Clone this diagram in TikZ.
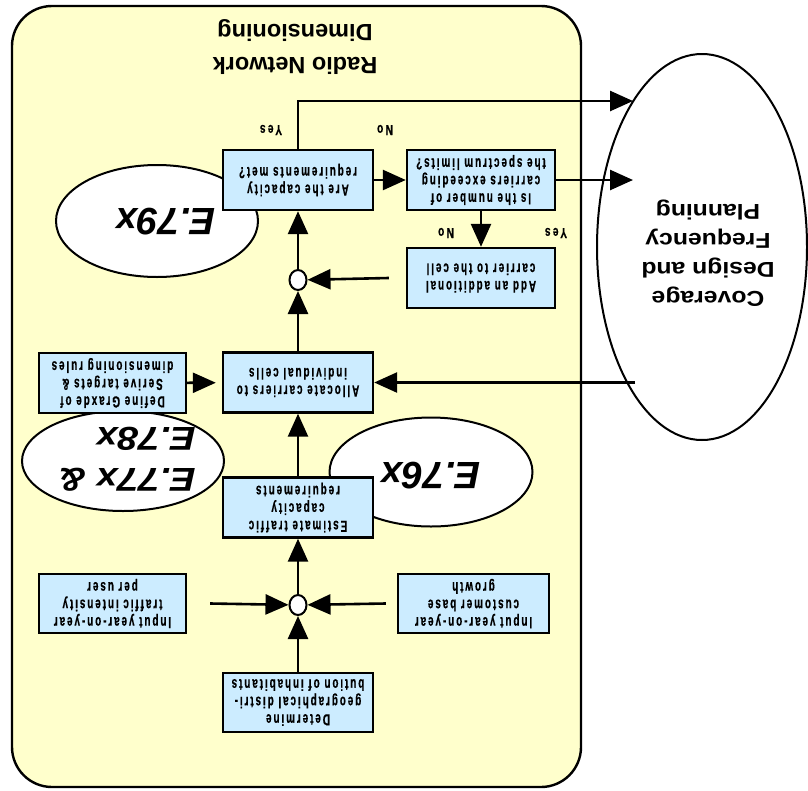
\documentclass[tikz,border=0pt]{standalone}
\usepackage{fontspec}
\setmainfont{Liberation Sans}
\newfontfamily\boxfont[FakeStretch=0.62, LetterSpace=12, BoldFeatures={FakeBold=0.5}]{Liberation Sans}
\newfontfamily\tagfont[FakeStretch=0.7, LetterSpace=16, BoldFeatures={FakeBold=0.5}]{Liberation Sans}
\newfontfamily\widefont[FakeStretch=1.15]{Liberation Sans}
\usetikzlibrary{arrows.meta,shapes.geometric}
\definecolor{panelfill}{RGB}{255,255,204}
\definecolor{stepfill}{RGB}{204,236,255}
\begin{document}
\begin{tikzpicture}[x=1pt,y=-1pt,
  stepbox/.style={draw, line width=2.4pt, fill=stepfill, minimum width=150pt,
    minimum height=60pt, inner sep=0pt, align=center, rotate=180,
    font=\boxfont\bfseries\fontsize{16}{17.5}\selectfont},
  junction/.style={draw, line width=2pt, fill=white, ellipse, minimum width=17pt,
    minimum height=20pt, inner sep=0pt},
  refoval/.style={draw, line width=2pt, fill=white, ellipse, inner sep=0pt},
  reftext/.style={rotate=180, inner sep=0pt, font=\bfseries\itshape\fontsize{38}{41}\selectfont},
  tag/.style={rotate=180, inner sep=0pt, font=\tagfont\bfseries\fontsize{14.5}{15}\selectfont},
  arr/.style={line width=2.6pt, -{Triangle[length=23pt,width=20pt]}}]
\useasboundingbox (0,0) rectangle (808,790);
\fill[white] (0,0) rectangle (808,790);

% dimensioning panel
\draw[line width=2.4pt, fill=panelfill, rounded corners=40pt] (12,6) rectangle (581,787);
\node[rotate=180, inner sep=0pt, align=center, font=\bfseries\fontsize{23.5}{33}\selectfont]
  (title) at (295,47.5) {Radio Network\\Dimensioning};

% planning process on the right
\node[refoval, minimum width=210pt, minimum height=386pt] (cover) at (702,247) {};
\node[rotate=180, inner sep=0pt, align=center, font=\widefont\bfseries\fontsize{21.5}{29}\selectfont]
  (covertext) at (708,253.5) {Coverage\\Design and\\Frequency\\Planning};

% recommendation references
\node[refoval, minimum width=202pt, minimum height=112pt] (e79) at (157,221) {};
\node[reftext] (e79text) at (166,222) {E.79x};
\node[refoval, minimum width=202pt, minimum height=100pt] (e7778) at (123,461) {};
\node[reftext, align=left, font=\widefont\bfseries\itshape\fontsize{33}{41}\selectfont]
  (e7778text) at (127,459) {E.77x \&\\E.78x};
\node[refoval, minimum width=203pt, minimum height=109pt] (e76) at (431,472) {};
\node[reftext] (e76text) at (431,476) {E.76x};

% process steps
\node[stepbox] (are) at (298,180) {Are the capacity\\requirements met?};
\node[stepbox, minimum width=148pt] (isnum) at (481,180) {Is the number of\\carriers exceeding\\the spectrum limits?};
\node[stepbox, minimum width=148pt] (add) at (481,278) {Add an additional\\carrier to the cell};
\node[stepbox] (alloc) at (298,382.5) {Allocate carriers to\\individual cells};
\node[stepbox, minimum width=147pt] (define) at (112.5,383) {Define Graxde of\\Serive targets \&\\dimensioning rules};
\node[stepbox] (estimate) at (298,507.5) {Estimate traffic\\capacity\\requirements};
\node[stepbox, minimum width=147pt, minimum height=59pt] (inleft) at (112.5,603.5) {Input year-on-year\\traffic intensity\\per user};
\node[stepbox, minimum width=151pt, minimum height=59pt] (inright) at (473.5,603.5) {Input year-on-year\\customer base\\growth};
\node[stepbox, minimum height=59pt] (determine) at (298,702.5) {Determine\\geographical distri-\\bution of inhabitants};

% junctions
\node[junction] (j1) at (298,280) {};
\node[junction] (j2) at (298,605) {};

% free ends at the planning ellipse
\coordinate (cyes) at (633,101);
\coordinate (cno) at (633,180);
\coordinate (cin) at (635,382.5);

% decision labels
\node[tag] (yes1) at (271,130) {Yes};
\node[tag] (no1) at (385,130) {No};
\node[tag] (no2) at (446,233) {No};
\node[tag] (yes2) at (556,233) {Yes};

% connectors
\draw[arr] (determine) -- (j2);
\draw[arr] (inleft.west) ++(23,0) -- (j2);
\draw[arr] (inright.east) ++(-11,0) -- (j2);
\draw[arr] (j2) -- (estimate);
\draw[arr] (estimate) -- (alloc);
\draw[arr, shorten >=6pt] (define) -- (alloc);
\draw[arr] (cin) -- (alloc);
\draw[arr] (alloc) -- (j1);
\draw[arr] (add.east) ++(-17,0) -- (j1);
\draw[arr] (j1) -- (are);
\draw[arr] (are) -- (isnum);
\draw[arr] (isnum) -- (add);
\draw[arr] (are.south) |- (cyes);
\draw[arr] (isnum) -- (cno);
\end{tikzpicture}
\end{document}
